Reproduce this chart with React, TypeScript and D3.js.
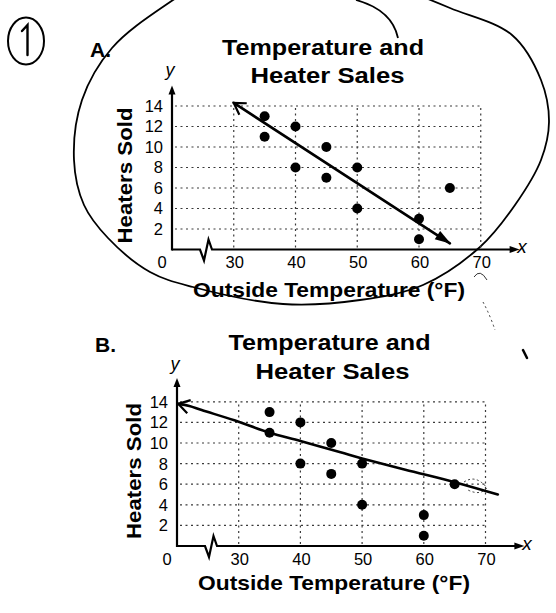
import React from "react";
import * as d3 from "d3";

// ---- data ----
const temps = [35, 35, 40, 40, 45, 45, 50, 50, 60, 60, 65];
const heaters = [13, 11, 12, 8, 10, 7, 8, 4, 3, 1, 6];
const xTicks = [30, 40, 50, 60, 70];
const yTicks = [2, 4, 6, 8, 10, 12, 14];
const fitAx = [30, 65];
const fitAy = [14.3, 0.6];
const fitBx = [20.2, 22, 24, 29.3, 35, 40, 46.5, 50, 57, 65, 72];
const fitBy = [13.8, 13.6, 13.2, 12.2, 11.0, 10.2, 9.1, 8.5, 7.4, 6.2, 5.0];
const titleLines = ["Temperature and", "Heater Sales"];
const xTitle = "Outside Temperature (°F)";
const yTitle = "Heaters Sold";

// hand-drawn loop around chart A (pixel annotation)
const loopPts: [number, number][] = [
  [173, 0], [112, 48], [82, 100], [74, 160], [84, 205], [108, 238], [150, 272],
  [193, 287], [283, 304], [360, 300], [423, 285], [480, 247], [515, 205],
  [541, 160], [549, 122], [541, 80], [512, 35], [450, 8], [400, -12], [320, -40], [240, -40],
];

const FONT = "'Liberation Sans', Arial, Helvetica, sans-serif";

type Cfg = {
  ox: number; oy: number; ux: number; uy: number; yMax: number;
  tag: string; tagPos: [number, number];
  t1: [number, number]; t2: [number, number];
  yl: [number, number]; xl: [number, number];
  yName: [number, number]; xName: [number, number];
  fitX: number[]; fitY: number[]; curved: boolean;
};

const cfgA: Cfg = {
  ox: 172, oy: 249.5, ux: 6.175, uy: 10.25, yMax: 16,
  tag: "A.", tagPos: [90, 57],
  t1: [323, 55], t2: [327.5, 83], yl: [132, 175.5], xl: [329, 297],
  yName: [170, 76], xName: [522, 253],
  fitX: fitAx, fitY: fitAy, curved: false,
};
const cfgB: Cfg = {
  ox: 177, oy: 546, ux: 6.17, uy: 10.3, yMax: 16.3,
  tag: "B.", tagPos: [95, 352],
  t1: [329.5, 350], t2: [332.5, 379], yl: [141, 471], xl: [334, 590],
  yName: [175, 370], xName: [527, 550],
  fitX: fitBx, fitY: fitBy, curved: true,
};

function openArrow(tip: [number, number], toward: [number, number], len: number, spread: number) {
  const a = Math.atan2(toward[1] - tip[1], toward[0] - tip[0]);
  const p1 = [tip[0] + len * Math.cos(a - spread), tip[1] + len * Math.sin(a - spread)];
  const p2 = [tip[0] + len * Math.cos(a + spread), tip[1] + len * Math.sin(a + spread)];
  return `M${p1[0]},${p1[1]} L${tip[0]},${tip[1]} L${p2[0]},${p2[1]}`;
}
function filledArrow(tip: [number, number], from: [number, number], len: number, half: number) {
  const a = Math.atan2(tip[1] - from[1], tip[0] - from[0]);
  const bx = tip[0] - len * Math.cos(a), by = tip[1] - len * Math.sin(a);
  const nx = -Math.sin(a) * half, ny = Math.cos(a) * half;
  return `M${tip[0]},${tip[1]} L${bx + nx},${by + ny} L${bx - nx},${by - ny} Z`;
}

function Chart({ c }: { c: Cfg }) {
  const x = d3.scaleLinear().domain([20, 75]).range([c.ox, c.ox + 55 * c.ux]);
  const y = d3.scaleLinear().domain([0, c.yMax]).range([c.oy, c.oy - c.yMax * c.uy]);
  const fitPts: [number, number][] = c.fitX.map((v, i) => [x(v), y(c.fitY[i])]);
  const line = d3.line().curve(c.curved ? d3.curveCatmullRom.alpha(0.5) : d3.curveLinear);
  const zig = `M${c.ox},${c.oy} L${c.ox + 28},${c.oy} L${c.ox + 32},${c.oy + 11} L${c.ox + 36.5},${c.oy - 10} L${c.ox + 40},${c.oy} L${x(75)},${c.oy}`;
  const gridStyle = { stroke: "#3a3a3a", strokeWidth: 1.2, strokeDasharray: "2 3.5", fill: "none" } as const;
  return (
    <g>
      {/* grid */}
      {yTicks.map((t) => (
        <line key={"h" + t} x1={c.ox + 3} x2={x(70)} y1={y(t)} y2={y(t)} style={gridStyle} />
      ))}
      {xTicks.map((t) => (
        <line key={"v" + t} x1={x(t)} x2={x(t)} y1={c.oy - 2} y2={y(14)} style={gridStyle} />
      ))}
      {/* axes */}
      <path d={zig} fill="none" stroke="#000" strokeWidth={2.2} strokeLinejoin="miter" />
      <line x1={c.ox} x2={c.ox} y1={c.oy + 1} y2={y(c.yMax) + 6} stroke="#000" strokeWidth={2.2} />
      <path d={filledArrow([c.ox, y(c.yMax)], [c.ox, c.oy], 9, 3.5)} fill="#000" />
      <path d={filledArrow([x(75) + 8, c.oy], [c.ox, c.oy], 10, 3.5)} fill="#000" />
      {/* tick labels */}
      {yTicks.map((t) => (
        <text key={"yl" + t} x={c.ox - 9} y={y(t)} dy="0.36em" textAnchor="end"
          fontFamily={FONT} fontSize={16.5} fill="#000">{t}</text>
      ))}
      <text x={c.ox - 10} y={c.oy + 18.5} textAnchor="middle" fontFamily={FONT} fontSize={16.5}>0</text>
      {xTicks.map((t) => (
        <text key={"xl" + t} x={x(t) + 1} y={c.oy + 18.5} textAnchor="middle"
          fontFamily={FONT} fontSize={16.5} fill="#000">{t}</text>
      ))}
      {/* axis names */}
      <text x={c.yName[0]} y={c.yName[1]} textAnchor="middle" fontFamily={FONT} fontStyle="italic" fontSize={18}>y</text>
      <text x={c.xName[0]} y={c.xName[1]} textAnchor="middle" fontFamily={FONT} fontStyle="italic" fontSize={19}>x</text>
      {/* titles */}
      <text x={c.t1[0]} y={c.t1[1]} textAnchor="middle" fontFamily={FONT} fontWeight="bold" fontSize={22}
        textLength={202} lengthAdjust="spacingAndGlyphs">{titleLines[0]}</text>
      <text x={c.t2[0]} y={c.t2[1]} textAnchor="middle" fontFamily={FONT} fontWeight="bold" fontSize={22}
        textLength={154} lengthAdjust="spacingAndGlyphs">{titleLines[1]}</text>
      <text x={c.tagPos[0]} y={c.tagPos[1]} fontFamily={FONT} fontWeight="bold" fontSize={21}>{c.tag}</text>
      <text x={c.xl[0]} y={c.xl[1]} textAnchor="middle" fontFamily={FONT} fontWeight="bold" fontSize={20.5}
        textLength={272} lengthAdjust="spacingAndGlyphs">{xTitle}</text>
      <text transform={`translate(${c.yl[0]},${c.yl[1]}) rotate(-90)`} textAnchor="middle" fontFamily={FONT}
        fontWeight="bold" fontSize={20.5} textLength={136} lengthAdjust="spacingAndGlyphs">{yTitle}</text>
      {/* fit line */}
      <path d={line(fitPts) || ""} fill="none" stroke="#000" strokeWidth={2.6} strokeLinecap="round" />
      <path d={openArrow(fitPts[0], fitPts[Math.min(2, fitPts.length - 1)], 13, 0.55)} fill="none"
        stroke="#000" strokeWidth={2.2} strokeLinejoin="miter" />
      {!c.curved && (
        <path d={filledArrow([fitPts[1][0] + 1, fitPts[1][1] + 0.5], fitPts[0], 16, 5)} fill="#000" />
      )}
      {/* points */}
      {temps.map((t, i) => (
        <circle key={"p" + i} cx={x(t)} cy={y(heaters[i])} r={5} fill="#000" />
      ))}
    </g>
  );
}

export default function App() {
  const loop = d3.line().curve(d3.curveCatmullRomClosed.alpha(0.5))(loopPts) || "";
  return (
    <svg width={556} height={613} viewBox="0 0 556 613"
      style={{ position: "absolute", left: 0, top: 0, background: "#fff" }}>
      <rect width={556} height={613} fill="#fff" />
      {/* hand-written annotations */}
      <ellipse cx={26} cy={41} rx={18} ry={23.5} fill="none" stroke="#000" strokeWidth={2} />
      <path d="M22,31 L27.5,25 L27.5,55" fill="none" stroke="#000" strokeWidth={2.4} strokeLinecap="round" />
      <path d={loop} fill="none" stroke="#000" strokeWidth={1.8} />
      <path d="M356,0 Q392,10 398,38" fill="none" stroke="#000" strokeWidth={1.8} />
      <path d="M474,277 Q480,268 487,280" fill="none" stroke="#333" strokeWidth={1} />
      <path d="M483,302 Q490,315 495,330" fill="none" stroke="#333" strokeWidth={1} strokeDasharray="2 3" />
      <path d="M523,350 L527,358" fill="none" stroke="#000" strokeWidth={2.5} strokeLinecap="round" />
      <path d="M464,482 Q476,474 487,488 Q480,496 468,490" fill="none" stroke="#333" strokeWidth={1} strokeDasharray="2 2.5" />
      <Chart c={cfgA} />
      <Chart c={cfgB} />
    </svg>
  );
}
